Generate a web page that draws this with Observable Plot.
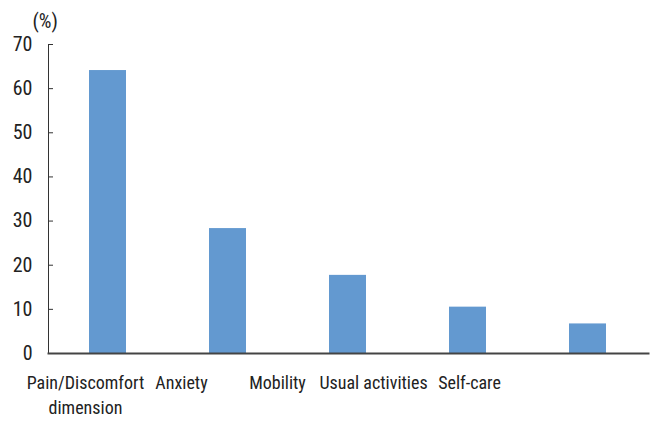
<!DOCTYPE html>
<html><head><meta charset="utf-8">
<script src="https://cdn.jsdelivr.net/npm/d3@7"></script>
<script src="https://cdn.jsdelivr.net/npm/@observablehq/plot@0.6"></script>
<style>
body{margin:0;background:#fff}
#chart{position:relative;width:660px;height:429px}
#chart svg{position:absolute;left:0;top:0}
</style>
</head><body><div id="chart"></div>
<script>
const categories = ["Pain/Discomfort\ndimension", "Anxiety", "Mobility", "Usual activities", "Self-care"];
const values = [64.1, 28.3, 17.7, 10.5, 6.7];
const yTicks = [0, 10, 20, 30, 40, 50, 60, 70];
const yLabel = "(%)";

const data = categories.map((c, i) => ({category: c, value: values[i]}));
const font = "'Roboto Condensed', 'DejaVu Sans Condensed', sans-serif";
const base = {
  width: 660, height: 429, marginTop: 44, marginBottom: 76,
  style: {fontFamily: font, fontSize: "20px", color: "#222", background: "transparent"}
};

// bars, y axis and frame lines
const chart = Plot.plot({
  ...base, marginLeft: 48, marginRight: 12,
  x: {domain: categories, paddingInner: 0.69, paddingOuter: 0.345, label: null, axis: null},
  y: {domain: [0, 70], label: null},
  marks: [
    Plot.barY(data, {x: "category", y: "value", fill: "#6399d0"}),
    Plot.axisY({ticks: yTicks, tickSize: -5, tickPadding: 21, label: null, fontSize: 20, stroke: "#333"}),
    Plot.frame({anchor: "left", stroke: "#333"}),
    Plot.frame({anchor: "bottom", stroke: "#444", strokeWidth: 2}),
    Plot.text([yLabel], {text: d => d, frameAnchor: "top-left", dx: -16, dy: -31, fontSize: 20, fill: "#222"})
  ]
});

// category labels (in the original they sit on a narrower spacing than the bars)
const labels = Plot.plot({
  ...base, marginLeft: 84.5, marginRight: 191.5,
  x: {type: "point", domain: categories, padding: 0, label: null, axis: null},
  marks: [
    Plot.axisX({tickSize: 0, tickPadding: 18, label: null, fontSize: 18, lineHeight: 1.39, fill: "#222"})
  ]
});

document.getElementById("chart").append(chart, labels);
</script>
</body></html>
